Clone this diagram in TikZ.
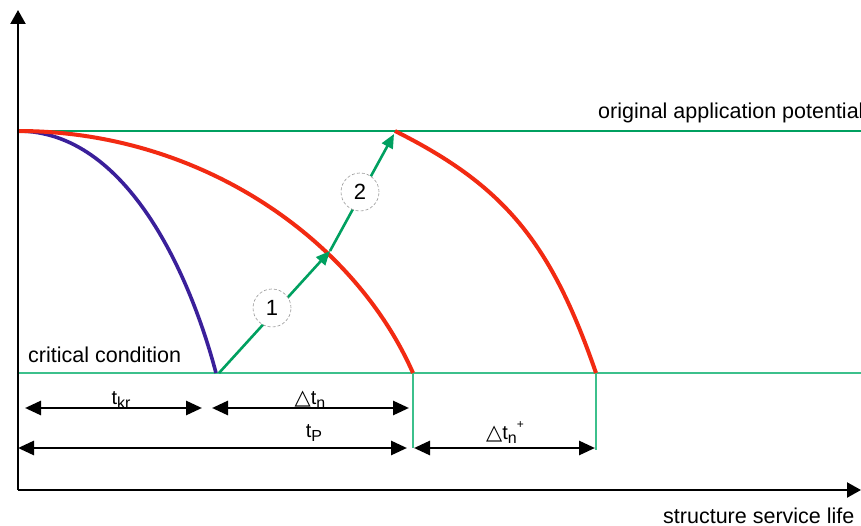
\documentclass[tikz,border=0pt]{standalone}
\usepackage{fontspec}
\setmainfont{Liberation Sans}
\newfontfamily\symfont{DejaVu Sans}
\usetikzlibrary{arrows.meta}
\definecolor{cred}{HTML}{F22A12}
\definecolor{cblue}{HTML}{3A1F9A}
\definecolor{cgreen}{HTML}{00A060}
\definecolor{clgreen}{HTML}{3CC08C}
\newcommand\mysub[1]{\raisebox{-0.45ex}{\fontsize{16}{16}\selectfont #1}}
\newcommand\mysup[1]{\raisebox{1.0ex}{\fontsize{12}{12}\selectfont #1}}
\newcommand\mytri{{\symfont\fontsize{21}{21}\selectfont\char"25B3}}
\tikzset{
  lab/.style={font=\fontsize{21.5}{24}\selectfont, inner sep=0pt},
  dimlab/.style={font=\fontsize{20}{22}\selectfont, inner sep=0pt, anchor=base},
  axis/.style={line width=2.2pt, -{Triangle[length=14pt,width=15pt]}},
  dimarrow/.style={line width=2.8pt, {Triangle[length=16pt,width=14pt]}-{Triangle[length=16pt,width=14pt]}},
  redcurve/.style={cred, line width=4pt},
  bluecurve/.style={cblue, line width=3.6pt},
  garrow/.style={cgreen, line width=2.6pt, -{Triangle[length=14pt,width=12pt]}},
  numcirc/.style={circle, draw=gray!80, densely dashed, line width=0.6pt, fill=white, minimum size=38pt, inner sep=0pt, font=\fontsize{22}{22}\selectfont},
  thin green/.style={clgreen, line width=1.6pt}
}
\begin{document}
\begin{tikzpicture}[x=1pt,y=-1pt]
\useasboundingbox (0,0) rectangle (861,526);
\fill[white] (0,0) rectangle (861,526);
% coordinates
\coordinate (O) at (18,490);
\coordinate (Ytop) at (18,10);
\coordinate (Xend) at (861,490);
\coordinate (S) at (18,131);
\coordinate (TopR) at (861,131);
\coordinate (CL) at (18,373);
\coordinate (CR) at (861,373);
\coordinate (B) at (216,373);
\coordinate (R1) at (413,373);
\coordinate (R2s) at (395,131);
\coordinate (R2e) at (596,373);
\coordinate (A0) at (219,373);
\coordinate (A1) at (330,251);
\coordinate (A2) at (394,134);
\coordinate (V1b) at (413,448);
\coordinate (V2b) at (596,450);
% lines
\draw[thin green] (CL) -- (CR);
\draw[thin green] (R1) -- (V1b);
\draw[thin green] (R2e) -- (V2b);
\draw[cgreen, line width=2.6pt] (S) -- (TopR);
% curves
\draw[bluecurve] (S) .. controls (128,131) and (191,278) .. (B);
\draw[redcurve] (S) .. controls (198,131) and (353,237) .. (R1);
\draw[redcurve] (R2s) .. controls (505,186) and (551,243) .. (R2e);
% green arrows
\draw[garrow] (A0) -- (A1);
\draw[garrow] (A1) -- (A2);
\node[numcirc] (n1) at (272,308) {1};
\node[numcirc] (n2) at (360,192) {2};
% axes
\draw[axis] (O) -- (Ytop);
\draw[axis] (O) -- (Xend);
% dimension arrows
\coordinate (d1a) at (25,408); \coordinate (d1b) at (202,408);
\coordinate (d2a) at (212,408); \coordinate (d2b) at (409,408);
\coordinate (d3a) at (18,448); \coordinate (d3b) at (407,448);
\coordinate (d4a) at (414,448); \coordinate (d4b) at (595,448);
\draw[dimarrow] (d1a) -- (d1b);
\draw[dimarrow] (d2a) -- (d2b);
\draw[dimarrow] (d3a) -- (d3b);
\draw[dimarrow] (d4a) -- (d4b);
\node[dimlab] (ltkr) at (121,404) {t\mysub{kr}};
\node[dimlab] (ldtn) at (310,404) {\mytri t\mysub{n}};
\node[dimlab] (ltp) at (314,437) {t\mysub{P}};
\node[dimlab] (ldtnp) at (505,439) {\mytri t\mysub{n}\mysup{+}};
% texts
\node[lab, anchor=base west] (orig) at (598,119) {original application potential};
\node[lab, anchor=base west] (crit) at (28,362) {critical condition};
\node[lab, anchor=base west] (ssl) at (663,523) {structure service life};
\end{tikzpicture}
\end{document}
